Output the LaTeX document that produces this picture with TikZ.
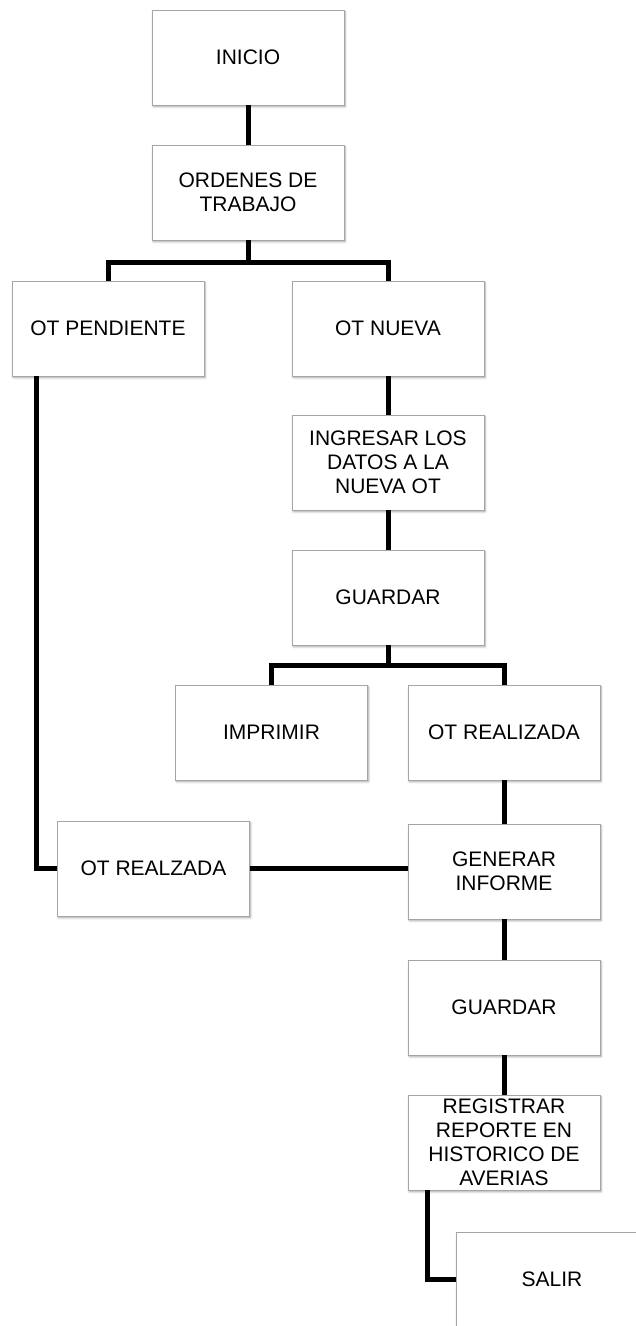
\documentclass[tikz,border=0pt]{standalone}
\usepackage{fontspec}
\setmainfont{Liberation Sans}
\usetikzlibrary{shadows.blur}
\definecolor{boxline}{RGB}{165,165,165}
\tikzset{
  box/.style={draw=boxline, line width=0.8pt, fill=white, minimum width=192pt,
    minimum height=95pt, inner sep=2pt, align=center,
    font=\fontsize{21pt}{24pt}\selectfont,
    blur shadow={shadow xshift=1.2pt, shadow yshift=-1.8pt, shadow blur steps=6,
      shadow blur radius=2pt, shadow opacity=35}},
  conn/.style={line width=5pt, black}
}
\begin{document}
\begin{tikzpicture}[x=1pt, y=-1pt]
\useasboundingbox (0,0) rectangle (636,1326);

% boxes of the flow
\node[box] (inicio)    at (248,57.5)  {INICIO};
\node[box] (ordenes)   at (248,192.5) {ORDENES DE\\TRABAJO};
\node[box] (pendiente) at (108,328.5) {OT PENDIENTE};
\node[box] (nueva)     at (388,328.5) {OT NUEVA};
\node[box] (ingresar)  at (388,462.5) {INGRESAR LOS\\DATOS A LA\\NUEVA OT};
\node[box] (guardar)   at (388,597.5) {GUARDAR};
\node[box] (imprimir)  at (271.5,732.5) {IMPRIMIR};
\node[box] (realizada) at (504,732.5) {OT REALIZADA};
\node[box] (realzada)  at (153.5,868.5) {OT REALZADA};
\node[box] (generar)   at (504,871.5) {GENERAR\\INFORME};
\node[box] (guardarb)  at (504,1007.5) {GUARDAR};
\node[box] (registrar) at (504,1142.5) {REGISTRAR\\REPORTE EN\\HISTORICO DE\\AVERIAS};
\node[box] (salir)     at (552,1279.5) {SALIR};

% junction points of the branches
\coordinate (busa) at (248,262);
\coordinate (busb) at (388,665);

% connectors
\draw[conn] (inicio.south) -- (ordenes.north);
\draw[conn] (ordenes.south) -- (busa);
\draw[conn] (pendiente.north) |- (busa) -| (nueva.north);
\draw[conn] (nueva.south) -- (ingresar.north);
\draw[conn] (ingresar.south) -- (guardar.north);
\draw[conn] (guardar.south) -- (busb);
\draw[conn] (imprimir.north) |- (busb) -| (realizada.north);
\draw[conn] (realizada.south) -- (generar.north);
\draw[conn] ([xshift=25pt]pendiente.south west) |- (realzada.west);
\draw[conn] (realzada.east) -- (realzada.east -| generar.west);
\draw[conn] (generar.south) -- (guardarb.north);
\draw[conn] (guardarb.south) -- (registrar.north);
\draw[conn] ([xshift=20pt]registrar.south west) |- (salir.west);
\end{tikzpicture}
\end{document}
